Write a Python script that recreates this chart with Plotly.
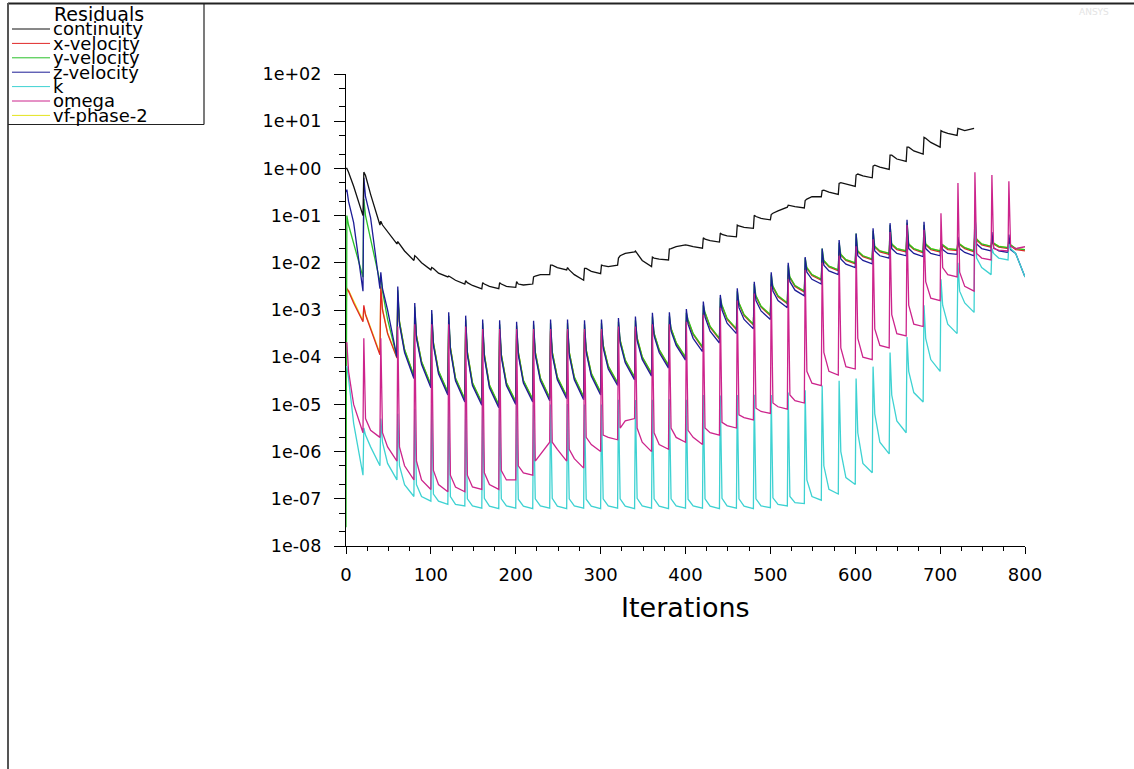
import plotly.graph_objects as go

# ---------------------------------------------------------------------------
# Residual history of a transient run: a new time step starts every 20
# iterations.  For every step the residual is stored right after the step
# change (peak), shortly after (knee), mid-step (mid) and at the step end.
# ---------------------------------------------------------------------------
step_start = list(range(0, 800, 20))
step_offsets = [1, 3, 9, 20]

y_tick_values = [1e-8, 1e-7, 1e-6, 1e-5, 1e-4, 1e-3, 1e-2, 1e-1, 1e0, 1e1, 1e2]
y_tick_labels = ["1e-08", "1e-07", "1e-06", "1e-05", "1e-04", "1e-03",
                 "1e-02", "1e-01", "1e+00", "1e+01", "1e+02"]
x_tick_values = [0, 100, 200, 300, 400, 500, 600, 700, 800]

# continuity (run stops reporting it after iteration 740)
continuity_start = 1.0
continuity_peak = [1.0, 0.832, 7.59e-2, 2.82e-2, 1.41e-2, 7.94e-3, 5.25e-3, 4.17e-3, 3.8e-3, 3.8e-3,
                   3.98e-3, 5.01e-3, 8.91e-3, 7.94e-3, 7.59e-3, 8.91e-3, 1.26e-2, 1.78e-2, 1.32e-2, 1.95e-2,
                   2.4e-2, 3.39e-2, 4.27e-2, 6.31e-2, 1.02e-1, 1.05e-1, 1.66e-1, 2.09e-1, 3.39e-1, 4.79e-1,
                   7.24e-1, 1.12, 1.91, 2.82, 4.57, 6.31, 7.08]
continuity_knee = [0.832, 0.708, 6.31e-2, 2.51e-2, 1.32e-2, 7.59e-3, 5.01e-3, 3.8e-3, 3.55e-3, 3.55e-3,
                   3.55e-3, 5.25e-3, 8.91e-3, 7.08e-3, 7.59e-3, 8.71e-3, 1.41e-2, 1.58e-2, 1.26e-2, 2.0e-2,
                   2.34e-2, 3.16e-2, 3.98e-2, 6.03e-2, 9.55e-2, 1.12e-1, 1.62e-1, 2.24e-1, 3.47e-1, 5.01e-1,
                   7.59e-1, 1.17, 1.91, 2.82, 4.37, 6.03, 6.92]
continuity_mid = [0.417, 0.282, 4.47e-2, 1.78e-2, 1.0e-2, 6.03e-3, 4.27e-3, 3.31e-3, 3.16e-3, 3.16e-3,
                  3.39e-3, 5.62e-3, 7.94e-3, 5.62e-3, 6.61e-3, 8.32e-3, 1.58e-2, 1.12e-2, 1.2e-2, 2.19e-2,
                  2.19e-2, 2.95e-2, 3.72e-2, 5.62e-2, 8.71e-2, 1.26e-1, 1.55e-1, 2.51e-1, 3.16e-1, 4.68e-1,
                  6.92e-1, 1.07, 1.58, 2.34, 3.55, 5.5, 6.31]
continuity_floor = [0.1, 6.31e-2, 2.51e-2, 1.12e-2, 7.08e-3, 5.01e-3, 3.55e-3, 2.82e-3, 2.82e-3, 3.02e-3,
                    3.55e-3, 5.62e-3, 7.08e-3, 4.27e-3, 5.89e-3, 8.91e-3, 1.7e-2, 8.32e-3, 1.15e-2, 2.4e-2,
                    2.04e-2, 2.75e-2, 3.55e-2, 5.37e-2, 8.13e-2, 1.51e-1, 1.45e-1, 2.51e-1, 2.82e-1, 4.17e-1,
                    6.31e-1, 9.55e-1, 1.41, 2.0, 2.82, 5.01, 7.08]

# x-velocity
xvel_start = 3.16e-3
xvel_peak = [2.82e-3, 1.26e-3, 3.16e-3, 1.78e-3, 7.94e-4, 5.62e-4, 5.01e-4, 4.27e-4, 3.55e-4, 3.39e-4,
             3.16e-4, 3.31e-4, 3.55e-4, 3.55e-4, 3.39e-4, 3.55e-4, 3.8e-4, 4.07e-4, 4.9e-4, 5.01e-4,
             5.89e-4, 8.51e-4, 1.17e-3, 1.62e-3, 2.24e-3, 3.55e-3, 5.62e-3, 7.41e-3, 1.12e-2, 1.7e-2,
             2.34e-2, 3.02e-2, 3.89e-2, 4.57e-2, 4.17e-2, 2.0e-2, 2.51e-2, 5.01e-2, 2.82e-2, 2.82e-2]
xvel_knee = [2.51e-3, 7.94e-4, 1.0e-3, 5.5e-4, 2.75e-4, 1.95e-4, 1.55e-4, 1.23e-4, 1.1e-4, 1.1e-4,
             1.23e-4, 1.23e-4, 1.23e-4, 1.23e-4, 1.38e-4, 1.74e-4, 2.19e-4, 2.45e-4, 3.09e-4, 3.89e-4,
             5.75e-4, 8.51e-4, 1.2e-3, 1.35e-3, 1.91e-3, 3.02e-3, 4.79e-3, 7.59e-3, 1.07e-2, 1.45e-2,
             1.7e-2, 2.14e-2, 2.4e-2, 2.4e-2, 2.4e-2, 2.29e-2, 2.4e-2, 3.02e-2, 2.51e-2, 2.29e-2]
xvel_mid = [1.41e-3, 3.98e-4, 3.16e-4, 1.38e-4, 7.76e-5, 4.9e-5, 3.47e-5, 2.75e-5, 2.45e-5, 2.75e-5,
            3.09e-5, 3.47e-5, 3.63e-5, 3.63e-5, 4.37e-5, 6.17e-5, 8.32e-5, 9.77e-5, 1.38e-4, 1.95e-4,
            3.02e-4, 4.27e-4, 6.31e-4, 7.59e-4, 1.15e-3, 1.91e-3, 3.16e-3, 5.37e-3, 8.13e-3, 1.12e-2,
            1.35e-2, 1.7e-2, 1.91e-2, 1.91e-2, 1.91e-2, 1.91e-2, 2.0e-2, 2.4e-2, 2.14e-2, 1.91e-2]
xvel_floor = [5.62e-4, 1.12e-4, 9.55e-5, 3.89e-5, 2.45e-5, 1.74e-5, 1.23e-5, 1.05e-5, 9.33e-6, 1.1e-5,
              1.23e-5, 1.32e-5, 1.45e-5, 1.38e-5, 1.74e-5, 2.75e-5, 3.63e-5, 4.37e-5, 6.46e-5, 9.55e-5,
              1.58e-4, 2.4e-4, 3.8e-4, 4.79e-4, 7.59e-4, 1.35e-3, 2.4e-3, 4.27e-3, 6.76e-3, 9.55e-3,
              1.15e-2, 1.51e-2, 1.7e-2, 1.62e-2, 1.7e-2, 1.82e-2, 1.7e-2, 2.14e-2, 2.0e-2, 1.78e-2]

# y-velocity
yvel_start = 2.5e-8
yvel_peak = [1.0e-1, 2.24e-1, 5.01e-3, 2.63e-3, 1.17e-3, 8.32e-4, 7.41e-4, 6.31e-4, 5.25e-4, 5.01e-4,
             4.68e-4, 4.9e-4, 5.25e-4, 5.25e-4, 5.01e-4, 5.25e-4, 5.62e-4, 6.03e-4, 7.24e-4, 7.41e-4,
             8.71e-4, 1.26e-3, 1.82e-3, 2.51e-3, 3.55e-3, 5.62e-3, 8.91e-3, 1.26e-2, 2.0e-2, 2.63e-2,
             4.17e-2, 4.79e-2, 6.31e-2, 7.08e-2, 6.31e-2, 2.51e-2, 2.82e-2, 6.31e-2, 3.16e-2, 3.16e-2]
yvel_knee = [6.31e-2, 1.0e-1, 2.51e-3, 5.75e-4, 2.88e-4, 2.04e-4, 1.62e-4, 1.29e-4, 1.15e-4, 1.15e-4,
             1.29e-4, 1.29e-4, 1.29e-4, 1.29e-4, 1.45e-4, 1.82e-4, 2.29e-4, 2.57e-4, 3.24e-4, 4.07e-4,
             6.31e-4, 8.91e-4, 1.26e-3, 1.41e-3, 2.0e-3, 3.16e-3, 5.01e-3, 7.94e-3, 1.12e-2, 1.51e-2,
             1.78e-2, 2.24e-2, 2.51e-2, 2.51e-2, 2.51e-2, 2.4e-2, 2.51e-2, 3.16e-2, 2.63e-2, 2.4e-2]
yvel_mid = [2.51e-2, 3.16e-2, 6.31e-4, 1.45e-4, 8.13e-5, 5.13e-5, 3.63e-5, 2.88e-5, 2.57e-5, 2.88e-5,
            3.24e-5, 3.63e-5, 3.8e-5, 3.8e-5, 4.57e-5, 6.46e-5, 8.71e-5, 1.02e-4, 1.45e-4, 2.04e-4,
            3.16e-4, 4.47e-4, 6.61e-4, 7.94e-4, 1.2e-3, 2.0e-3, 3.31e-3, 5.62e-3, 8.51e-3, 1.17e-2,
            1.41e-2, 1.78e-2, 2.0e-2, 2.0e-2, 2.0e-2, 2.0e-2, 2.09e-2, 2.51e-2, 2.24e-2, 2.0e-2]
yvel_floor = [5.01e-3, 3.98e-3, 1.0e-4, 4.07e-5, 2.57e-5, 1.82e-5, 1.29e-5, 1.1e-5, 9.77e-6, 1.15e-5,
              1.29e-5, 1.38e-5, 1.51e-5, 1.45e-5, 1.82e-5, 2.88e-5, 3.8e-5, 4.57e-5, 6.76e-5, 1.0e-4,
              1.66e-4, 2.51e-4, 3.98e-4, 5.01e-4, 7.94e-4, 1.41e-3, 2.51e-3, 4.47e-3, 7.08e-3, 1.0e-2,
              1.2e-2, 1.58e-2, 1.78e-2, 1.7e-2, 1.78e-2, 1.91e-2, 1.78e-2, 2.24e-2, 2.09e-2, 1.91e-2]

# z-velocity
zvel_start = 0.316
zvel_peak = [0.355, 0.631, 6.31e-3, 3.16e-3, 1.41e-3, 1.0e-3, 8.91e-4, 7.59e-4, 6.31e-4, 6.03e-4,
             5.62e-4, 5.89e-4, 6.31e-4, 6.31e-4, 6.03e-4, 6.31e-4, 6.76e-4, 7.24e-4, 8.71e-4, 8.91e-4,
             1.05e-3, 1.51e-3, 2.09e-3, 2.88e-3, 3.98e-3, 6.31e-3, 1.0e-2, 1.32e-2, 2.0e-2, 3.02e-2,
             4.17e-2, 5.37e-2, 6.92e-2, 8.13e-2, 7.41e-2, 2.82e-2, 3.55e-2, 1.12e-1, 4.47e-2, 3.98e-2]
zvel_knee = [0.2, 0.251, 2.82e-3, 5.01e-4, 2.51e-4, 1.78e-4, 1.41e-4, 1.12e-4, 1.0e-4, 1.0e-4,
             1.12e-4, 1.12e-4, 1.12e-4, 1.12e-4, 1.26e-4, 1.58e-4, 2.0e-4, 2.24e-4, 2.82e-4, 3.55e-4,
             5.01e-4, 7.08e-4, 1.0e-3, 1.12e-3, 1.58e-3, 2.51e-3, 3.98e-3, 6.31e-3, 8.91e-3, 1.2e-2,
             1.41e-2, 1.78e-2, 2.0e-2, 2.0e-2, 2.0e-2, 1.91e-2, 2.0e-2, 2.51e-2, 2.09e-2, 1.91e-2]
zvel_mid = [7.08e-2, 8.91e-2, 1.0e-3, 1.26e-4, 7.08e-5, 4.47e-5, 3.16e-5, 2.51e-5, 2.24e-5, 2.51e-5,
            2.82e-5, 3.16e-5, 3.31e-5, 3.31e-5, 3.98e-5, 5.62e-5, 7.59e-5, 8.91e-5, 1.26e-4, 1.78e-4,
            2.51e-4, 3.55e-4, 5.25e-4, 6.31e-4, 9.55e-4, 1.58e-3, 2.63e-3, 4.47e-3, 6.76e-3, 9.33e-3,
            1.12e-2, 1.41e-2, 1.58e-2, 1.58e-2, 1.58e-2, 1.58e-2, 1.66e-2, 2.0e-2, 1.78e-2, 1.58e-2]
zvel_floor = [2.51e-3, 2.82e-3, 1.0e-4, 3.55e-5, 2.24e-5, 1.58e-5, 1.12e-5, 9.55e-6, 8.51e-6, 1.0e-5,
              1.12e-5, 1.2e-5, 1.32e-5, 1.26e-5, 1.58e-5, 2.51e-5, 3.31e-5, 3.98e-5, 5.89e-5, 8.71e-5,
              1.32e-4, 2.0e-4, 3.16e-4, 3.98e-4, 6.31e-4, 1.12e-3, 2.0e-3, 3.55e-3, 5.62e-3, 7.94e-3,
              9.55e-3, 1.26e-2, 1.41e-2, 1.35e-2, 1.41e-2, 1.51e-2, 1.41e-2, 1.78e-2, 1.66e-2, 5.01e-3]

# k
k_start = 6.31e-5
k_peak = [6.31e-5, 3.16e-6, 5.01e-6, 6.31e-6, 7.94e-6, 1.0e-5, 1.0e-5, 1.02e-5, 9.8e-6, 1.0e-5,
          1.0e-5, 9.8e-6, 1.0e-5, 1.02e-5, 1.0e-5, 1.0e-5, 1.26e-5, 1.24e-5, 1.26e-5, 1.28e-5,
          1.26e-5, 1.58e-5, 1.55e-5, 1.58e-5, 1.6e-5, 1.58e-5, 1.78e-5, 2.0e-5, 2.51e-5, 3.16e-5,
          3.55e-5, 6.31e-5, 1.26e-4, 2.69e-4, 1.26e-3, 4.47e-3, 1.0e-2, 1.32e-1, 2.0e-2, 2.51e-2]
k_knee = [3.55e-5, 2.24e-6, 1.58e-6, 5.01e-7, 2.0e-7, 1.26e-7, 1.12e-7, 1.0e-7, 1.02e-7, 1.0e-7,
          9.8e-8, 1.0e-7, 1.02e-7, 1.0e-7, 9.8e-8, 1.0e-7, 1.0e-7, 1.02e-7, 1.0e-7, 1.0e-7,
          9.8e-8, 1.0e-7, 1.02e-7, 1.0e-7, 1.0e-7, 1.05e-7, 1.12e-7, 2.51e-7, 5.01e-7, 1.0e-6,
          2.51e-6, 6.31e-6, 1.58e-5, 5.01e-5, 2.51e-4, 1.26e-3, 2.51e-3, 1.26e-2, 1.58e-2, 2.0e-2]
k_mid = [3.98e-6, 1.26e-6, 5.62e-7, 2.0e-7, 1.12e-7, 8.91e-8, 7.59e-8, 7.08e-8, 7.0e-8, 7.08e-8,
         7.0e-8, 7.08e-8, 7.0e-8, 7.08e-8, 7.0e-8, 7.08e-8, 7.0e-8, 7.08e-8, 7.0e-8, 7.08e-8,
         7.08e-8, 7.0e-8, 7.08e-8, 7.0e-8, 7.08e-8, 7.59e-8, 8.32e-8, 1.12e-7, 1.58e-7, 2.82e-7,
         5.62e-7, 1.58e-6, 4.47e-6, 1.78e-5, 8.91e-5, 5.01e-4, 1.41e-3, 7.94e-3, 1.26e-2, 1.58e-2]
k_floor = [3.16e-7, 5.01e-7, 2.51e-7, 1.12e-7, 8.91e-8, 7.59e-8, 7.08e-8, 6.31e-8, 6.2e-8, 6.31e-8,
           6.2e-8, 6.31e-8, 6.2e-8, 6.31e-8, 6.2e-8, 6.31e-8, 6.2e-8, 6.31e-8, 6.2e-8, 6.31e-8,
           6.31e-8, 6.2e-8, 6.31e-8, 6.2e-8, 6.5e-8, 7.08e-8, 7.94e-8, 9.33e-8, 1.26e-7, 2.0e-7,
           3.55e-7, 8.91e-7, 2.51e-6, 1.12e-5, 5.01e-5, 3.16e-4, 8.91e-4, 5.62e-3, 1.15e-2, 5.01e-3]

# omega
omega_start = 2.0e-4
omega_peak = [2.0e-4, 2.51e-4, 2.51e-4, 4.47e-4, 5.01e-4, 5.01e-4, 5.01e-4, 4.47e-4, 3.98e-4, 3.98e-4,
              3.98e-4, 3.98e-4, 3.98e-4, 3.98e-4, 3.98e-4, 3.98e-4, 4.47e-4, 4.47e-4, 5.01e-4, 5.01e-4,
              5.62e-4, 7.94e-4, 1.12e-3, 1.58e-3, 2.24e-3, 3.16e-3, 4.47e-3, 7.08e-3, 1.0e-2, 1.41e-2,
              2.24e-2, 3.16e-2, 4.47e-2, 6.31e-2, 5.01e-2, 1.12e-1, 4.9e-1, 8.32e-1, 7.24e-1, 5.37e-1]
omega_knee = [5.01e-5, 5.01e-6, 2.51e-6, 1.26e-6, 6.31e-7, 3.98e-7, 3.16e-7, 3.16e-7, 3.55e-7, 3.98e-7,
              5.01e-7, 6.31e-7, 1.58e-6, 1.12e-6, 2.0e-6, 2.24e-6, 3.16e-6, 3.16e-6, 2.51e-6, 3.16e-6,
              2.82e-6, 3.16e-6, 4.17e-6, 6.03e-6, 8.32e-6, 1.07e-5, 1.58e-5, 5.01e-5, 1.26e-4, 1.58e-4,
              2.51e-4, 3.98e-4, 7.94e-4, 1.26e-3, 3.98e-3, 7.94e-3, 6.31e-3, 1.58e-2, 2.0e-2, 2.24e-2]
omega_mid = [1.0e-5, 2.82e-6, 1.26e-6, 5.01e-7, 2.51e-7, 2.0e-7, 1.78e-7, 1.78e-7, 2.0e-7, 2.51e-7,
             3.55e-7, 8.91e-7, 1.12e-6, 7.08e-7, 1.41e-6, 2.0e-6, 4.47e-6, 1.58e-6, 1.41e-6, 2.0e-6,
             2.0e-6, 2.51e-6, 3.55e-6, 5.25e-6, 7.08e-6, 8.91e-6, 1.2e-5, 2.82e-5, 5.01e-5, 6.31e-5,
             1.0e-4, 1.78e-4, 3.16e-4, 5.01e-4, 1.78e-3, 5.62e-3, 3.16e-3, 1.26e-2, 1.86e-2, 2.0e-2]
omega_floor = [2.51e-6, 2.0e-6, 6.31e-7, 2.51e-7, 1.58e-7, 1.41e-7, 1.41e-7, 1.58e-7, 1.58e-7, 2.51e-7,
               3.16e-7, 1.58e-6, 6.31e-7, 4.47e-7, 1.0e-6, 1.78e-6, 5.01e-6, 1.0e-6, 1.12e-6, 1.58e-6,
               1.41e-6, 2.24e-6, 3.16e-6, 4.68e-6, 6.46e-6, 7.94e-6, 1.07e-5, 2.51e-5, 4.17e-5, 5.62e-5,
               8.91e-5, 1.58e-4, 2.82e-4, 4.47e-4, 1.58e-3, 5.01e-3, 2.51e-3, 1.15e-2, 1.78e-2, 2.19e-2]

# vf-phase-2
vf_start = 1.0e-3
vf_peak = [2.5e-3, 1.1e-3, 2.8e-3, 1.6e-3, 7.0e-4, 5.0e-4, 4.5e-4, 3.8e-4, 3.2e-4, 3.0e-4,
           2.8e-4, 3.0e-4, 3.2e-4, 3.2e-4, 3.0e-4, 3.2e-4, 3.4e-4, 3.6e-4, 4.4e-4, 4.5e-4,
           5.3e-4, 7.6e-4, 1.05e-3, 1.45e-3, 2.0e-3, 3.2e-3, 5.0e-3, 6.6e-3, 1.0e-2, 1.5e-2,
           2.1e-2, 2.7e-2, 3.5e-2, 4.1e-2, 3.7e-2, 1.8e-2, 2.2e-2, 4.5e-2, 2.5e-2, 2.5e-2]
vf_knee = [2.6e-3, 8.2e-4, 1.05e-3, 5.7e-4, 2.9e-4, 2.0e-4, 1.6e-4, 1.3e-4, 1.15e-4, 1.15e-4,
           1.3e-4, 1.3e-4, 1.3e-4, 1.3e-4, 1.45e-4, 1.8e-4, 2.3e-4, 2.6e-4, 3.2e-4, 4.1e-4,
           6.0e-4, 8.9e-4, 1.25e-3, 1.4e-3, 2.0e-3, 3.2e-3, 5.0e-3, 8.0e-3, 1.12e-2, 1.52e-2,
           1.78e-2, 2.25e-2, 2.5e-2, 2.5e-2, 2.5e-2, 2.4e-2, 2.5e-2, 3.2e-2, 2.6e-2, 2.4e-2]
vf_mid = [1.5e-3, 4.2e-4, 3.3e-4, 1.45e-4, 8.1e-5, 5.1e-5, 3.6e-5, 2.9e-5, 2.6e-5, 2.9e-5,
          3.2e-5, 3.6e-5, 3.8e-5, 3.8e-5, 4.6e-5, 6.5e-5, 8.7e-5, 1.02e-4, 1.45e-4, 2.05e-4,
          3.2e-4, 4.5e-4, 6.6e-4, 8.0e-4, 1.2e-3, 2.0e-3, 3.3e-3, 5.6e-3, 8.5e-3, 1.17e-2,
          1.41e-2, 1.78e-2, 2.0e-2, 2.0e-2, 2.0e-2, 2.0e-2, 2.1e-2, 2.5e-2, 2.25e-2, 2.0e-2]
vf_floor = [5.9e-4, 1.2e-4, 1.0e-4, 4.1e-5, 2.6e-5, 1.8e-5, 1.3e-5, 1.1e-5, 9.8e-6, 1.15e-5,
            1.3e-5, 1.4e-5, 1.5e-5, 1.45e-5, 1.8e-5, 2.9e-5, 3.8e-5, 4.6e-5, 6.8e-5, 1.0e-4,
            1.66e-4, 2.5e-4, 4.0e-4, 5.0e-4, 8.0e-4, 1.42e-3, 2.5e-3, 4.5e-3, 7.1e-3, 1.0e-2,
            1.2e-2, 1.6e-2, 1.8e-2, 1.7e-2, 1.8e-2, 1.9e-2, 1.8e-2, 2.25e-2, 2.1e-2, 1.9e-2]

series = [
    # name, colour, start, peak, knee, mid, floor   (drawing order)
    ("vf-phase-2", "#e4e41c", vf_start, vf_peak, vf_knee, vf_mid, vf_floor),
    ("x-velocity", "#e02828", xvel_start, xvel_peak, xvel_knee, xvel_mid, xvel_floor),
    ("y-velocity", "#28c028", yvel_start, yvel_peak, yvel_knee, yvel_mid, yvel_floor),
    ("z-velocity", "#1c1c96", zvel_start, zvel_peak, zvel_knee, zvel_mid, zvel_floor),
    ("k", "#3ed2d2", k_start, k_peak, k_knee, k_mid, k_floor),
    ("omega", "#cc248c", omega_start, omega_peak, omega_knee, omega_mid, omega_floor),
    ("continuity", "#111111", continuity_start, continuity_peak, continuity_knee,
     continuity_mid, continuity_floor),
]
legend_order = ["continuity", "x-velocity", "y-velocity", "z-velocity", "k", "omega", "vf-phase-2"]


def residual_curve(start, peak, knee, mid, floor):
    xs, ys = [0], [start]
    for i, s in enumerate(step_start[:len(peak)]):
        for off, vals in zip(step_offsets, (peak, knee, mid, floor)):
            xs.append(s + off)
            ys.append(vals[i])
    return xs, ys


fig = go.Figure()
colour_of = {}
for name, colour, start, pk, kn, md, fl in series:
    xs, ys = residual_curve(start, pk, kn, md, fl)
    colour_of[name] = colour
    fig.add_trace(go.Scatter(x=xs, y=ys, mode="lines", name=name,
                             line=dict(color=colour, width=1.3), showlegend=False))

# page geometry (pixels)
W, H = 1134, 769
ML, MR, MT, MB = 346, 109, 74, 223
PW, PH = W - ML - MR, H - MT - MB
FONT = "DejaVu Sans"


def px(x):
    return (x - ML) / PW


def py(y):
    return (H - MB - y) / PH


shapes = [
    # graphics window border
    dict(type="line", xref="paper", yref="paper", x0=px(8), x1=px(W), y0=py(3.5), y1=py(3.5),
         line=dict(color="#222222", width=2)),
    dict(type="line", xref="paper", yref="paper", x0=px(8), x1=px(8), y0=py(3), y1=py(H),
         line=dict(color="#555555", width=2)),
    # legend box
    dict(type="line", xref="paper", yref="paper", x0=px(204), x1=px(204), y0=py(4), y1=py(124.5),
         line=dict(color="#222222", width=1.2)),
    dict(type="line", xref="paper", yref="paper", x0=px(8), x1=px(204), y0=py(124.5), y1=py(124.5),
         line=dict(color="#222222", width=1.2)),
]
annotations = [
    dict(text="Residuals", xref="paper", yref="paper", x=px(52), y=py(14), xanchor="left",
         yanchor="middle", showarrow=False, font=dict(family=FONT, size=19, color="#000000")),
    dict(text="Iterations", xref="paper", yref="paper", x=0.5, y=py(607), xanchor="center",
         yanchor="middle", showarrow=False, font=dict(family=FONT, size=27, color="#000000")),
    dict(text="ANSYS", xref="paper", yref="paper", x=px(1094), y=py(12), xanchor="center",
         yanchor="middle", showarrow=False, font=dict(family=FONT, size=9, color="#e4e4e4")),
]
for i, name in enumerate(legend_order):
    yc = 29 + 14.4 * i
    shapes.append(dict(type="line", xref="paper", yref="paper", x0=px(12), x1=px(50),
                       y0=py(yc), y1=py(yc), line=dict(color=colour_of[name], width=1)))
    annotations.append(dict(text=name, xref="paper", yref="paper", x=px(51), y=py(yc),
                            xanchor="left", yanchor="middle", showarrow=False,
                            font=dict(family=FONT, size=18, color="#000000")))

fig.update_layout(
    width=W, height=H, autosize=False,
    margin=dict(l=ML, r=MR, t=MT, b=MB, pad=0),
    paper_bgcolor="white", plot_bgcolor="white",
    showlegend=False,
    shapes=shapes, annotations=annotations,
    font=dict(family=FONT, color="#000000"),
    xaxis=dict(range=[0, 800], tickvals=x_tick_values, ticks="outside", ticklen=7, tickwidth=1.3,
               tickcolor="#000000", showline=True, linecolor="#000000", linewidth=1.3,
               showgrid=False, zeroline=False, ticklabelstandoff=5,
               tickfont=dict(family=FONT, size=18, color="#000000"),
               minor=dict(dtick=25, ticks="outside", ticklen=4, tickwidth=1, tickcolor="#000000",
                          showgrid=False)),
    yaxis=dict(type="log", range=[-8, 2], tickvals=y_tick_values, ticktext=y_tick_labels,
               ticks="outside", ticklen=11, tickwidth=1.3, tickcolor="#000000",
               showline=True, linecolor="#000000", linewidth=1.3, showgrid=False, zeroline=False,
               ticklabelstandoff=9, tickfont=dict(family=FONT, size=17.5, color="#000000"),
               minor=dict(dtick="D2", ticks="outside", ticklen=6, tickwidth=1, tickcolor="#000000",
                          showgrid=False)),
)

fig.write_html("out.html")
